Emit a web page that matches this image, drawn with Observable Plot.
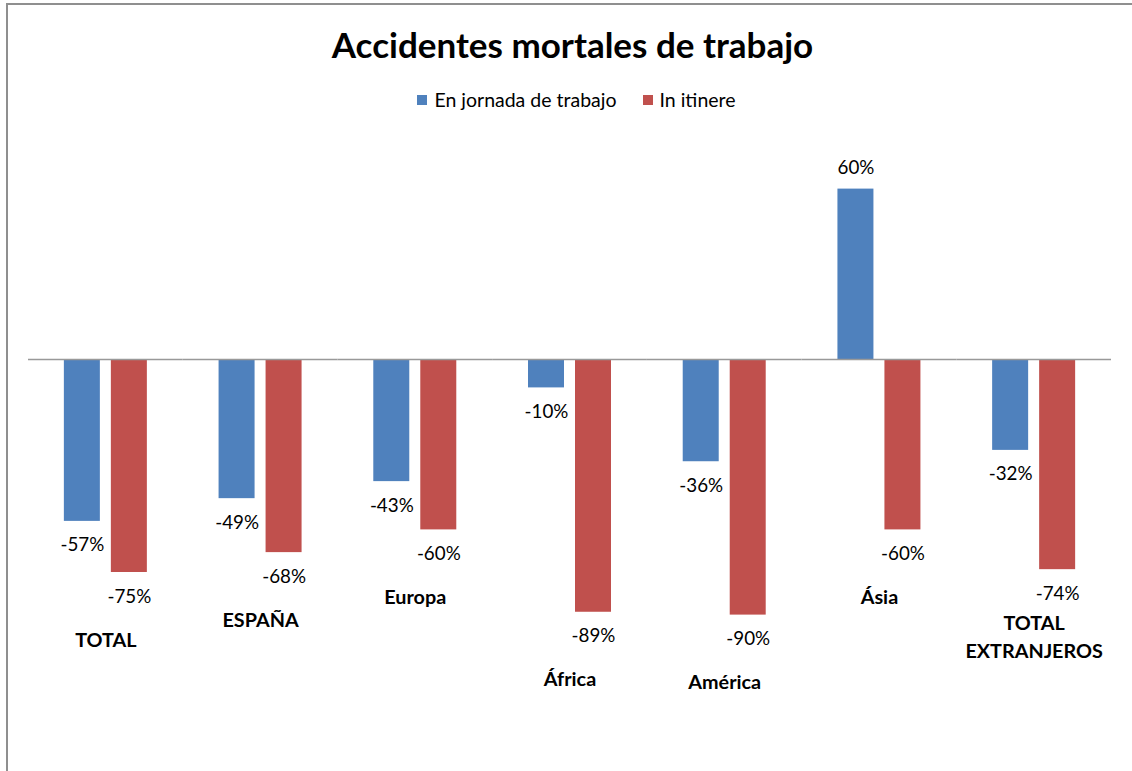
<!DOCTYPE html>
<html>
<head>
<meta charset="utf-8">
<script src="https://cdn.jsdelivr.net/npm/d3@7"></script>
<script src="https://cdn.jsdelivr.net/npm/@observablehq/plot@0.6"></script>
<style>
  html, body { margin: 0; padding: 0; background: #fff; width: 1132px; height: 771px; overflow: hidden; }
  body { position: relative; font-family: Lato, "Open Sans", sans-serif; color: #000; }
  #frame { position: absolute; left: 6px; top: 3px; width: 1300px; height: 900px;
           border-left: 2px solid #8f8f8f; border-top: 2px solid #8f8f8f; box-sizing: border-box; }
  #title { position: absolute; left: 0; top: 22px; width: 1145px; height: 44px; line-height: 44px;
           text-align: center; font-size: 35px; font-weight: bold; }
  #legend { position: absolute; left: 0; top: 88px; width: 1153px; height: 24px; line-height: 24px;
            display: flex; justify-content: center; align-items: center; font-size: 19.5px; }
  .item { display: flex; align-items: center; margin: 0 13px; }
  .sw { width: 10px; height: 10px; margin-right: 7px; }
  #chart { position: absolute; left: 0; top: 130px; }
</style>
</head>
<body>
<div id="frame"></div>
<div id="title">Accidentes mortales de trabajo</div>
<div id="legend"></div>
<div id="chart"></div>
<script>
const categories = ["TOTAL", "ESPAÑA", "Europa", "África", "América", "Ásia", "TOTAL\nEXTRANJEROS"];
const series = ["En jornada de trabajo", "In itinere"];
const colors = ["#4F81BD", "#C0504D"];
const jornada = [-57, -49, -43, -10, -36, 60, -32];
const itinere = [-75, -68, -60, -89, -90, -60, -74];

const data = categories.flatMap((c, i) => [
  {cat: c, serie: series[0], value: jornada[i]},
  {cat: c, serie: series[1], value: itinere[i]}
]);
const catLabels = categories.map((c, i) => ({cat: c, y: Math.min(jornada[i], itinere[i]) - 23}));

const legend = document.getElementById("legend");
series.forEach((s, i) => {
  const it = document.createElement("div");
  it.className = "item";
  const sw = document.createElement("span");
  sw.className = "sw";
  sw.style.background = colors[i];
  const t = document.createElement("span");
  t.textContent = s;
  it.appendChild(sw); it.appendChild(t);
  legend.appendChild(it);
});

const plot = Plot.plot({
  width: 1132,
  height: 641,
  marginLeft: 28,
  marginRight: 21,
  marginTop: 0,
  marginBottom: 0,
  style: {fontFamily: "Lato, 'Open Sans', sans-serif", fontSize: "19px", color: "#000", background: "transparent"},
  fx: {domain: categories, axis: null, padding: 0, round: false},
  x: {domain: series, axis: null, paddingInner: 0.234, paddingOuter: 0.763, round: false},
  y: {domain: [-90, 60], range: [484.6, 58.6], axis: null},
  color: {domain: series, range: colors},
  marks: [
    Plot.barY(data, {fx: "cat", x: "serie", y: "value", fill: "serie"}),
    Plot.ruleY([0], {stroke: "#999", strokeWidth: 1.5}),
    Plot.text(data.filter(d => d.value < 0), {fx: "cat", x: "serie", y: "value", text: d => d.value + "%", dy: 24, fontSize: 18.8, fill: "#000"}),
    Plot.text(data.filter(d => d.value >= 0), {fx: "cat", x: "serie", y: "value", text: d => d.value + "%", dy: -21, fontSize: 18.8, fill: "#000"}),
    Plot.text(catLabels, {fx: "cat", y: "y", text: "cat", fontWeight: "bold", fontSize: 19.8, lineHeight: 1.4, fill: "#000"})
  ]
});
document.getElementById("chart").appendChild(plot);
</script>
</body>
</html>
